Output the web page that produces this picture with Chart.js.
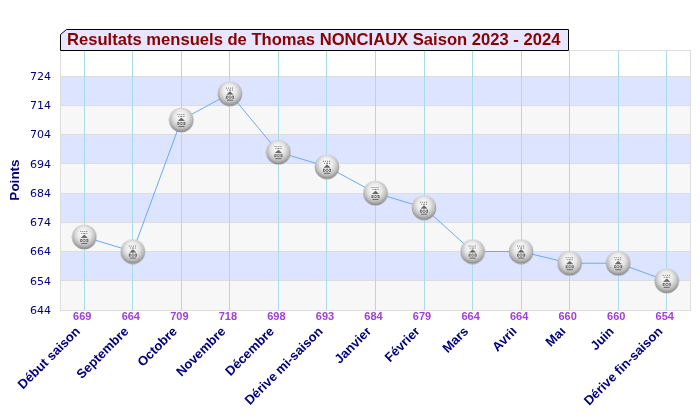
<!DOCTYPE html>
<html>
<head>
<meta charset="utf-8">
<title>Resultats mensuels</title>
<script src="https://cdn.jsdelivr.net/npm/chart.js@4"></script>
<style>
body { margin: 0; background: #fff; }
</style>
</head>
<body>
<canvas id="graphCanvas" width="700" height="420"></canvas>
<script>
const titleText = 'Resultats mensuels de Thomas NONCIAUX Saison 2023 - 2024'
const categories = ['Début saison', 'Septembre', 'Octobre', 'Novembre', 'Décembre', 'Dérive mi-saison',
    'Janvier', 'Février', 'Mars', 'Avril', 'Mai', 'Juin', 'Dérive fin-saison']
const points = [669, 664, 709, 718, 698, 693, 684, 679, 664, 664, 660, 660, 654]
const yTicks = [644, 654, 664, 674, 684, 694, 704, 714, 724]
const bandStarts = [644, 654, 664, 674, 684, 694, 704, 714]
const bandColors = ['#f7f7f7', '#dde4ff', '#f7f7f7', '#dde4ff', '#f7f7f7', '#dde4ff', '#f7f7f7', '#dde4ff']

// ball marker with the little crest in the middle
function makeBall() {
    const c = document.createElement('canvas')
    c.width = 26
    c.height = 26
    const g = c.getContext('2d')
    const grad = g.createRadialGradient(12, 9, 1, 13, 11, 14.5)
    grad.addColorStop(0, '#ffffff')
    grad.addColorStop(0.45, '#e6e6e6')
    grad.addColorStop(0.75, '#bdbdbd')
    grad.addColorStop(1, '#808080')
    g.fillStyle = grad
    g.beginPath()
    g.arc(13, 13, 12.3, 0, Math.PI * 2)
    g.fill()
    g.fillStyle = '#666'
    const rows = [
        [7, [9, 11, 13, 15]],
        [9, [10, 12, 13, 15]],
        [11, [12, 13]],
        [12, [11, 12, 13, 14]],
        [13, [10, 11, 12, 13, 14, 15]],
        [15, [9, 10, 12, 13, 15, 16]],
        [16, [9, 11, 14, 16]],
        [17, [9, 10, 12, 13, 15, 16]],
        [19, [10, 11, 12, 13, 14, 15]]
    ]
    rows.forEach(r => r[1].forEach(x => g.fillRect(x, r[0], 1, 1)))
    return c
}

const bandsPlugin = {
    id: 'bands',
    beforeDraw(chart) {
        const { ctx, chartArea, scales } = chart
        ctx.save()
        bandStarts.forEach((v, i) => {
            const y1 = scales.y.getPixelForValue(v)
            const y2 = scales.y.getPixelForValue(v + 10)
            ctx.fillStyle = bandColors[i]
            ctx.fillRect(chartArea.left, y2, chartArea.right - chartArea.left, y1 - y2)
        })
        ctx.restore()
    },
    afterDraw(chart) {
        const { ctx, chartArea } = chart
        ctx.save()
        ctx.strokeStyle = '#dddddd'
        ctx.lineWidth = 1
        ctx.strokeRect(chartArea.left + 0.5, chartArea.top + 0.5, chartArea.right - chartArea.left - 1, chartArea.bottom - chartArea.top)

        // title box with the cut corner
        ctx.beginPath()
        ctx.moveTo(60.5, 50.5)
        ctx.lineTo(60.5, 34.5)
        ctx.lineTo(66.5, 29.5)
        ctx.lineTo(568.5, 29.5)
        ctx.lineTo(568.5, 50.5)
        ctx.closePath()
        ctx.fillStyle = '#e6e6ff'
        ctx.fill()
        ctx.strokeStyle = '#000'
        ctx.stroke()
        ctx.fillStyle = '#8b0000'
        ctx.font = 'bold 16.6px "Liberation Sans"'
        ctx.textBaseline = 'middle'
        ctx.textAlign = 'left'
        ctx.fillText(titleText, 67, 40.5)
        ctx.restore()
    }
}

function noPad(scale) {
    scale.paddingLeft = 0
    scale.paddingRight = 0
    scale.paddingTop = 0
    scale.paddingBottom = 0
}

new Chart(document.getElementById('graphCanvas'), {
    type: 'line',
    plugins: [bandsPlugin],
    data: {
        labels: categories,
        datasets: [{
            data: points,
            borderColor: '#66aaff',
            borderWidth: 1,
            tension: 0,
            fill: false,
            pointStyle: makeBall(),
            pointRadius: 12,
            pointHoverRadius: 12
        }]
    },
    options: {
        responsive: false,
        animation: false,
        devicePixelRatio: 1,
        layout: { autoPadding: false, padding: { top: 50, right: 9, left: 0, bottom: 0 } },
        plugins: { legend: { display: false }, tooltip: { enabled: false } },
        scales: {
            y: {
                min: 644,
                max: 732.9,
                afterFit(scale) { scale.width = 60; noPad(scale) },
                afterBuildTicks(scale) { scale.ticks = yTicks.map(v => ({ value: v })) },
                grid: { color: '#dddddd', drawTicks: false },
                border: { display: false },
                title: {
                    display: true,
                    text: 'Points',
                    color: '#000080',
                    padding: { top: 7, bottom: 0 },
                    font: { family: 'Liberation Sans', size: 13.5, weight: 'bold' }
                },
                ticks: {
                    padding: 9,
                    labelOffset: 1,
                    color: '#000080',
                    font: { family: 'DejaVu Sans', size: 11 }
                }
            },
            x: {
                offset: true,
                afterFit(scale) { scale.height = 18; noPad(scale) },
                grid: { color: '#a8dce8', offset: false, drawTicks: false },
                border: { display: false },
                ticks: {
                    autoSkip: false,
                    maxRotation: 0,
                    minRotation: 0,
                    padding: 0,
                    labelOffset: -2,
                    color: '#a040d8',
                    font: { family: 'Liberation Sans', size: 11, weight: 'bold' },
                    callback: (v, i) => points[i]
                }
            },
            x2: {
                type: 'category',
                position: 'bottom',
                offset: true,
                afterFit(scale) { scale.height = 92; noPad(scale) },
                grid: { display: false },
                border: { display: false },
                ticks: {
                    autoSkip: false,
                    maxRotation: 45,
                    minRotation: 45,
                    padding: -12,
                    labelOffset: -6,
                    color: '#000080',
                    font: { family: 'Liberation Sans', size: 13, weight: 'bold' }
                }
            }
        }
    }
})
</script>
</body>
</html>
